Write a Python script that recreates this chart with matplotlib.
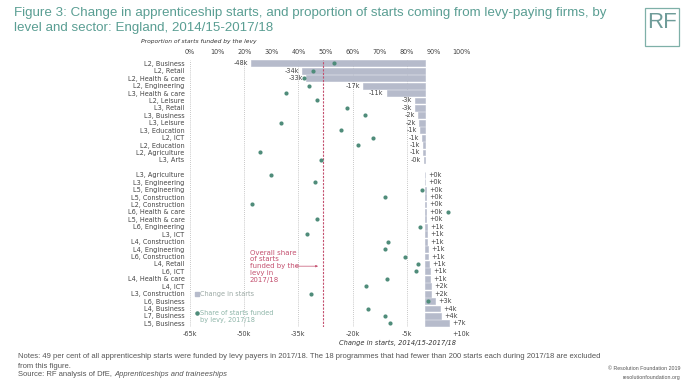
import matplotlib
matplotlib.use("Agg")
import matplotlib.pyplot as plt
from matplotlib.patches import Rectangle

# ---------------- data ----------------
categories = ["L2, Business", "L2, Retail", "L2, Health & care", "L2, Engineering",
              "L3, Health & care", "L2, Leisure", "L3, Retail", "L3, Business",
              "L3, Leisure", "L3, Education", "L2, ICT", "L2, Education",
              "L2, Agriculture", "L3, Arts",
              "L3, Agriculture", "L3, Engineering", "L5, Engineering", "L5, Construction",
              "L2, Construction", "L6, Health & care", "L5, Health & care", "L6, Engineering",
              "L3, ICT", "L4, Construction", "L4, Engineering", "L6, Construction",
              "L4, Retail", "L6, ICT", "L4, Health & care", "L4, ICT",
              "L3, Construction", "L6, Business", "L4, Business", "L7, Business",
              "L5, Business"]
change_k = [-48.2, -34.0, -33.0, -17.0, -10.6, -2.8, -2.8, -1.9, -1.6, -1.3, -0.7, -0.6,
            -0.55, -0.2,
            0.1, 0.1, 0.2, 0.2, 0.2, 0.3, 0.4, 0.6, 0.6, 0.7, 0.8, 1.0, 1.2, 1.3, 1.4,
            1.6, 1.8, 2.8, 4.2, 4.4, 6.7]
levy_share = [53.1, 45.3, 42.1, 43.9, 35.3, 47.0, 57.8, 64.6, 33.7, 55.7, 67.7, 62.1,
              25.8, 48.3,
              29.9, 46.1, 85.7, 71.8, 22.9, 95.2, 46.7, 84.9, 43.1, 72.9, 72.1, 79.3,
              84.3, 83.4, 72.8, 65.1, 44.6, 87.7, 65.6, 72.0, 73.9]
n_decline = 14          # first group: falling starts
overall_share = 49
bottom_ticks = [-65, -50, -35, -20, -5, 10]
bottom_ticklabels = ["-65k", "-50k", "-35k", "-20k", "-5k", "+10k"]
top_ticks = list(range(0, 101, 10))
top_ticklabels = [f"{t}%" for t in top_ticks]

# ---------------- style ----------------
plt.rcParams["font.family"] = ["DejaVu Sans"]
WIDE = ["Liberation Sans", "DejaVu Sans"]

BAR = "#b6bbcb"
DOT = "#4f8c7a"
RED = "#c4506f"
TEAL = "#5a9e93"
TXT = "#444444"
FS = 4.7

fig = plt.figure(figsize=(6.84, 3.85), dpi=100)
ax = fig.add_axes([190 / 684, 1 - 327.1 / 385, (461 - 190) / 684, (327.1 - 59.6) / 385])

rows = [i if i < n_decline else i + 1 for i in range(len(categories))]

for t in bottom_ticks:
    ax.axvline(t, color="#b5b5b5", lw=0.6, ls=(0, (1, 1.5)), zorder=0)
ax.barh(rows, change_k, height=0.78, color=BAR, edgecolor=BAR, linewidth=0.4, zorder=2)
for r, v in zip(rows, change_k):
    lab = ("-" if v < 0 else "+") + f"{int(abs(v) + 0.5)}k"
    if v < 0:
        ax.text(v - 0.8, r, lab, ha="right", va="center", fontsize=FS, color=TXT)
    else:
        ax.text(v + 0.9, r, lab, ha="left", va="center", fontsize=FS, color=TXT)

ax.set_xlim(-65, 10)
ax.set_ylim(35.5, -0.5)
ax.set_xticks(bottom_ticks)
ax.set_xticklabels(bottom_ticklabels)
ax.set_yticks(rows)
ax.set_yticklabels(categories)
ax.tick_params(axis="both", length=0, labelsize=FS, colors=TXT)
ax.tick_params(axis="x", pad=3)
ax.tick_params(axis="y", pad=4)
for s in ax.spines.values():
    s.set_visible(False)

ax2 = ax.twiny()
ax2.set_xlim(0, 100)
ax2.set_xticks(top_ticks)
ax2.set_xticklabels(top_ticklabels)
ax2.tick_params(axis="x", length=0, labelsize=FS, colors=TXT, pad=3)
for s in ax2.spines.values():
    s.set_visible(False)
ax2.axvline(overall_share, color=RED, lw=0.8, ls=(0, (2, 1.2)), zorder=3)
ax2.scatter(levy_share, rows, s=9, color=DOT, zorder=4, linewidths=0)
ax2.set_ylim(35.5, -0.5)

# annotation
ax.text(-48.4, 27.3, "Overall share\nof starts\nfunded by the\nlevy in\n2017/18",
        ha="left", va="center", fontsize=5, color=RED, linespacing=1.15)
ax.annotate("", xy=(-28.8, 27.3), xytext=(-36.6, 27.3),
            arrowprops=dict(arrowstyle="-|>", color=RED, lw=0.5, mutation_scale=3))

# legend
ax.scatter([-63.2], [31.1], marker="s", s=5, color=BAR, zorder=5, clip_on=False)
ax.text(-62.3, 31.1, "Change in starts", ha="left", va="center", fontsize=FS, color="#9aa8a3")
ax.scatter([-63.2], [33.55], marker="o", s=5, color=DOT, zorder=5, clip_on=False)
ax.text(-62.3, 34.05, "Share of starts funded\nby levy, 2017/18", ha="left", va="center",
        fontsize=FS, color="#8db5a8", linespacing=1.15)

# titles and labels
fig.text(14 / 684, 1 - 13 / 385,
         "Figure 3: Change in apprenticeship starts, and proportion of starts coming from levy-paying firms, by",
         ha="left", va="center", fontsize=9.6, color=TEAL, family=WIDE)
fig.text(14 / 684, 1 - 28 / 385, "level and sector: England, 2014/15-2017/18",
         ha="left", va="center", fontsize=9.6, color=TEAL, family=WIDE)
fig.text(141 / 684, 1 - 42 / 385, "Proportion of starts funded by the levy",
         ha="left", va="center", fontsize=4.3, style="italic", color="#333333")
fig.text(456 / 684, 1 - 343 / 385, "Change in starts, 2014/15-2017/18",
         ha="right", va="center", fontsize=4.8, style="italic", color="#333333")

# footer
FC = "#555555"
fig.text(18 / 684, 1 - 357 / 385,
         "Notes: 49 per cent of all apprenticeship starts were funded by levy payers in 2017/18. "
         "The 18 programmes that had fewer than 200 starts each during 2017/18 are excluded",
         ha="left", va="center", fontsize=5.5, color=FC, family=WIDE)
fig.text(18 / 684, 1 - 366 / 385, "from this figure.",
         ha="left", va="center", fontsize=5.5, color=FC, family=WIDE)
src = fig.text(18 / 684, 1 - 375 / 385, "Source: RF analysis of DfE, ",
               ha="left", va="center", fontsize=5.5, color=FC, family=WIDE)
fig.canvas.draw()
bb = src.get_window_extent()
fig.text(bb.x1 / fig.bbox.width, 1 - 375 / 385, "Apprenticeships and traineeships",
         ha="left", va="center", fontsize=5.5, color=FC, style="italic", family=WIDE)
fig.text(680 / 684, 1 - 369 / 385, "© Resolution Foundation 2019",
         ha="right", va="center", fontsize=3.8, color=FC, family=WIDE)
fig.text(680 / 684, 1 - 377 / 385, "resolutionfoundation.org",
         ha="right", va="center", fontsize=3.8, color=FC, family=WIDE)

# RF logo
fig.patches.append(Rectangle((645 / 684, 1 - 46 / 385), 34 / 684, 38 / 385,
                             transform=fig.transFigure, fill=False,
                             edgecolor="#7fb0a8", lw=0.9))
fig.text(662 / 684, 1 - 22 / 385, "RF", ha="center", va="center", fontsize=16,
         color="#6f9c99", family=WIDE)

fig.savefig("out.png", dpi=100)
